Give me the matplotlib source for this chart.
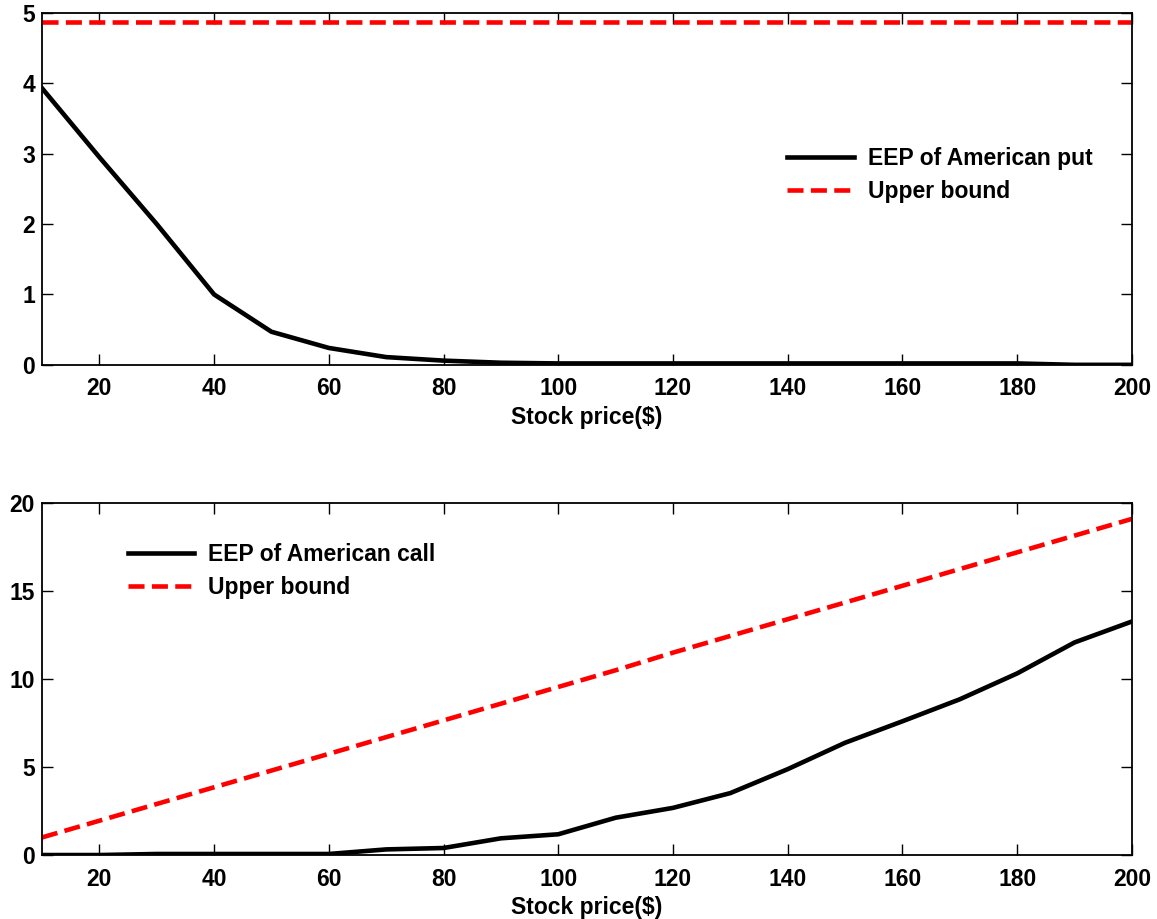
import matplotlib
matplotlib.use('Agg')
import matplotlib.pyplot as plt

plt.rcParams['font.family'] = ['Liberation Sans', 'DejaVu Sans']
plt.rcParams['font.weight'] = 'bold'

# Stock prices
price = [10, 20, 30, 40, 50, 60, 70, 80, 90, 100,
         110, 120, 130, 140, 150, 160, 170, 180, 190, 200]

# Early exercise premium of the American put and its bound
put_eep = [3.93, 2.95, 2.0, 1.0, 0.47, 0.24, 0.11, 0.06, 0.03, 0.02,
           0.02, 0.02, 0.02, 0.02, 0.02, 0.02, 0.02, 0.02, 0.0, 0.0]
put_bound = [4.87] * len(price)

# Early exercise premium of the American call and its bound
call_eep = [0.0, 0.0, 0.06, 0.06, 0.06, 0.06, 0.32, 0.4, 0.95, 1.18,
            2.12, 2.68, 3.52, 4.88, 6.38, 7.6, 8.85, 10.32, 12.08, 13.27]
call_bound = [1.0, 1.95, 2.9, 3.85, 4.8, 5.75, 6.7, 7.65, 8.6, 9.55,
              10.5, 11.5, 12.45, 13.4, 14.35, 15.3, 16.25, 17.2, 18.15, 19.1]

xticks = [20, 40, 60, 80, 100, 120, 140, 160, 180, 200]
FS = 16.5

fig = plt.figure(figsize=(11.57, 9.19), dpi=100)
ax1 = fig.add_axes([0.0363, 0.603, 0.942, 0.383])
ax2 = fig.add_axes([0.0363, 0.0696, 0.942, 0.383])


def style(ax, ylim, yticks):
    ax.set_xlim(10, 200)
    ax.set_ylim(*ylim)
    ax.set_xticks(xticks)
    ax.set_yticks(yticks)
    ax.tick_params(direction='in', length=8, width=1, top=True, right=True,
                   labelsize=FS)
    ax.tick_params(axis='x', pad=9)
    ax.tick_params(axis='y', pad=5)
    for lab in ax.get_xticklabels() + ax.get_yticklabels():
        lab.set_fontweight('bold')
    for s in ax.spines.values():
        s.set_linewidth(1.3)
    ax.set_xlabel('Stock price($)', fontsize=FS, fontweight='bold', labelpad=4)


ax1.plot(price, put_eep, color='black', lw=3.3, label='EEP of American put')
ax1.plot(price, put_bound, color='red', lw=3.3, ls=(0, (3.5, 1.6)),
         label='Upper bound')
style(ax1, (0, 5), [0, 1, 2, 3, 4, 5])
ax1.legend(loc='upper left', bbox_to_anchor=(0.665, 0.678), frameon=False,
           handlelength=2.9, handletextpad=0.6, labelspacing=0.45,
           prop={'weight': 'bold', 'size': FS})

ax2.plot(price, call_eep, color='black', lw=3.3, label='EEP of American call')
ax2.plot(price, call_bound, color='red', lw=3.3, ls=(0, (3.5, 1.6)),
         label='Upper bound')
style(ax2, (0, 20), [0, 5, 10, 15, 20])
ax2.legend(loc='upper left', bbox_to_anchor=(0.06, 0.945), frameon=False,
           handlelength=2.9, handletextpad=0.6, labelspacing=0.45,
           prop={'weight': 'bold', 'size': FS})

fig.savefig('out.png', dpi=100)
